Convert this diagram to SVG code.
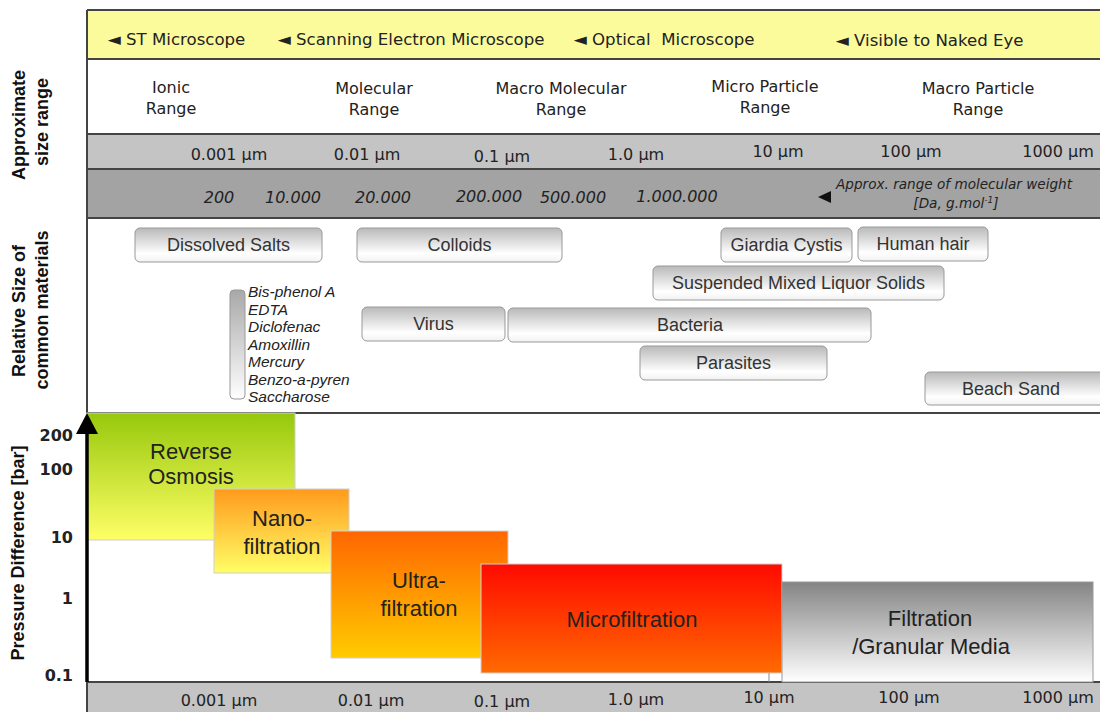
<svg xmlns="http://www.w3.org/2000/svg" width="1100" height="712" viewBox="0 0 1100 712">
<defs>
<linearGradient id="gBox" x1="0" y1="0" x2="0" y2="1"><stop offset="0" stop-color="#b9b9b9"/><stop offset="0.75" stop-color="#ffffff"/><stop offset="1" stop-color="#f2f2f2"/></linearGradient>
<linearGradient id="gBar" x1="0" y1="0" x2="0" y2="1"><stop offset="0" stop-color="#a8a8a8"/><stop offset="1" stop-color="#ffffff"/></linearGradient>
<linearGradient id="gRO" x1="0" y1="0" x2="0" y2="1"><stop offset="0" stop-color="#96c80c"/><stop offset="1" stop-color="#ffff66"/></linearGradient>
<linearGradient id="gNF" x1="0" y1="0" x2="0" y2="1"><stop offset="0" stop-color="#ff9a1c"/><stop offset="1" stop-color="#ffff66"/></linearGradient>
<linearGradient id="gUF" x1="0" y1="0" x2="0" y2="1"><stop offset="0" stop-color="#ff6600"/><stop offset="1" stop-color="#ffcc00"/></linearGradient>
<linearGradient id="gMF" x1="0" y1="0" x2="0" y2="1"><stop offset="0" stop-color="#ff0a00"/><stop offset="1" stop-color="#ff6a00"/></linearGradient>
<linearGradient id="gGF" x1="0" y1="0" x2="0" y2="1"><stop offset="0" stop-color="#848484"/><stop offset="1" stop-color="#ffffff"/></linearGradient>
</defs>
<style>
.t{font-family:"DejaVu Sans",sans-serif;font-size:16px;fill:#222;white-space:pre}
.top{font-size:16.6px}
.c{text-anchor:middle}
.it{font-style:italic}
.mat{fill:url(#gBox);stroke:#999;stroke-width:1}
.mt{font-family:"Liberation Sans",Arial,sans-serif;font-size:18px;fill:#333;text-anchor:middle}
.mol{font-family:"Liberation Sans",Arial,sans-serif;font-size:15.5px;font-style:italic;fill:#222}
.side{font-family:"Liberation Sans",Arial,sans-serif;font-size:18px;font-weight:bold;fill:#111;text-anchor:middle}
.yl{font-family:"DejaVu Sans",sans-serif;font-size:16px;font-weight:bold;fill:#222;text-anchor:end}
.fl{font-family:"Liberation Sans",Arial,sans-serif;font-size:22px;fill:#222;text-anchor:middle}
.proc{stroke:#cfcfcf;stroke-width:1}
.frame{stroke:#444;stroke-width:2;fill:none}
.sm{font-family:"DejaVu Sans",sans-serif;font-size:13.6px;font-style:italic;fill:#222}
</style>
<rect width="1100" height="712" fill="#ffffff"/>

<g id="bands">
<rect x="87" y="10" width="1013" height="49" fill="#fbfb9c"/>
<rect x="87" y="134" width="1013" height="35" fill="#c4c4c4"/>
<rect x="87" y="169" width="1013" height="49" fill="#a3a3a3"/>
<rect x="87" y="683" width="1013" height="29" fill="#c4c4c4"/>
<path class="frame" d="M87 10 H1100 M87 10 V413 M87 59 H1100 M87 134 H1100 M87 169 H1100 M87 218 H1100 M87 413 H1100 M87 682 H1100 M87 682 V712"/>
</g>

<g id="microscopes">
<text class="t top" x="108" y="45">◄ ST Microscope</text>
<text class="t top" x="278" y="45">◄ Scanning Electron Microscope</text>
<text class="t top" x="574" y="45">◄ Optical  Microscope</text>
<text class="t top" x="836" y="46">◄ Visible to Naked Eye</text>
</g>

<g id="ranges">
<text class="t c" x="171" y="93">Ionic</text><text class="t c" x="171" y="114">Range</text>
<text class="t c" x="374" y="94">Molecular</text><text class="t c" x="374" y="115">Range</text>
<text class="t c" x="561" y="94">Macro Molecular</text><text class="t c" x="561" y="115">Range</text>
<text class="t c" x="765" y="92">Micro Particle</text><text class="t c" x="765" y="113">Range</text>
<text class="t c" x="978" y="94">Macro Particle</text><text class="t c" x="978" y="115">Range</text>
</g>

<g id="size-scale-top">
<text class="t c" x="229" y="160">0.001 µm</text>
<text class="t c" x="367" y="160">0.01 µm</text>
<text class="t c" x="502" y="162">0.1 µm</text>
<text class="t c" x="636" y="160">1.0 µm</text>
<text class="t c" x="778" y="157">10 µm</text>
<text class="t c" x="911" y="157">100 µm</text>
<text class="t c" x="1058" y="157">1000 µm</text>
</g>

<g id="molecular-weight">
<text class="t c it" x="219" y="203">200</text>
<text class="t c it" x="293" y="203">10.000</text>
<text class="t c it" x="383" y="203">20.000</text>
<text class="t c it" x="489" y="202">200.000</text>
<text class="t c it" x="573" y="203">500.000</text>
<text class="t c it" x="677" y="202">1.000.000</text>
<polygon points="818,197 831,191 831,203" fill="#111"/>
<text class="sm" x="836" y="189">Approx. range of molecular weight</text>
<text class="sm" x="956" y="208" text-anchor="middle">[Da, g.mol<tspan font-size="9" dy="-5">-1</tspan><tspan dy="5">]</tspan></text>
</g>

<g id="side-labels">
<text class="side" transform="translate(25,125) rotate(-90)">Approximate</text>
<text class="side" transform="translate(48,122) rotate(-90)">size range</text>
<text class="side" transform="translate(25,311) rotate(-90)">Relative Size of</text>
<text class="side" transform="translate(48,310) rotate(-90)">common materials</text>
<text class="side" transform="translate(24,553) rotate(-90)">Pressure Difference [bar]</text>
</g>

<g id="materials">
<g id="dissolved-salts"><rect class="mat" x="135" y="228" width="187" height="34" rx="5"/><text class="mt" x="228.5" y="251">Dissolved Salts</text></g>
<g id="colloids"><rect class="mat" x="357" y="228" width="205" height="34" rx="5"/><text class="mt" x="459.5" y="251">Colloids</text></g>
<g id="giardia"><rect class="mat" x="721" y="228" width="131" height="34" rx="5"/><text class="mt" x="786.5" y="251">Giardia Cystis</text></g>
<g id="human-hair"><rect class="mat" x="858" y="227" width="130" height="34" rx="5"/><text class="mt" x="923" y="250">Human hair</text></g>
<g id="smls"><rect class="mat" x="653" y="266" width="291" height="34" rx="5"/><text class="mt" x="798.5" y="289">Suspended Mixed Liquor Solids</text></g>
<g id="virus"><rect class="mat" x="362" y="307" width="143" height="34" rx="5"/><text class="mt" x="433.5" y="330">Virus</text></g>
<g id="bacteria"><rect class="mat" x="508" y="308" width="363" height="34" rx="5"/><text class="mt" x="690" y="331">Bacteria</text></g>
<g id="parasites"><rect class="mat" x="640" y="346" width="187" height="34" rx="5"/><text class="mt" x="733.5" y="369">Parasites</text></g>
<g id="beach-sand"><rect class="mat" x="925" y="372" width="180" height="33" rx="5"/><text class="mt" x="1011" y="395">Beach Sand</text></g>
<g id="molecules">
<rect x="230" y="290" width="15" height="109" rx="4" fill="url(#gBar)" stroke="#999"/>
<text class="mol" x="248" y="297">Bis-phenol A</text>
<text class="mol" x="248" y="314.5">EDTA</text>
<text class="mol" x="248" y="332">Diclofenac</text>
<text class="mol" x="248" y="349.5">Amoxillin</text>
<text class="mol" x="248" y="367">Mercury</text>
<text class="mol" x="248" y="384.5">Benzo-a-pyren</text>
<text class="mol" x="248" y="402">Saccharose</text>
</g>
</g>

<g id="processes">
<g id="ro"><rect class="proc" x="87" y="413" width="208" height="127" fill="url(#gRO)"/><text class="fl" x="191" y="459">Reverse</text><text class="fl" x="191" y="484">Osmosis</text></g>
<g id="nf"><rect class="proc" x="214" y="489" width="135" height="84" fill="url(#gNF)"/><text class="fl" x="282" y="526">Nano-</text><text class="fl" x="282" y="554">filtration</text></g>
<g id="uf"><rect class="proc" x="331" y="531" width="177" height="127" fill="url(#gUF)"/><text class="fl" x="419" y="588">Ultra-</text><text class="fl" x="419" y="616">filtration</text></g>
<g id="mf"><rect class="proc" x="481" y="564" width="301" height="109" fill="url(#gMF)"/><text class="fl" x="632" y="627">Microfiltration</text></g>
<g id="gf"><rect x="782" y="582" width="311" height="100" fill="url(#gGF)" stroke="#999" stroke-width="1"/><text class="fl" x="930" y="626" font-size="23">Filtration</text><text class="fl" x="931" y="654" font-size="23">/Granular Media</text></g>
</g>

<g id="connectors">
<line x1="87" y1="432" x2="87" y2="682" stroke="#000" stroke-width="3.5"/>
<polygon points="87,413 76,434 98,434" fill="#000"/>
<line x1="769" y1="673" x2="769" y2="682" stroke="#888" stroke-width="1"/>
</g>

<g id="pressure-axis">
<text class="yl" x="73" y="441">200</text>
<text class="yl" x="73" y="475">100</text>
<text class="yl" x="73" y="543">10</text>
<text class="yl" x="73" y="604">1</text>
<text class="yl" x="73" y="681">0.1</text>
</g>

<g id="size-scale-bottom">
<text class="t c" x="219" y="706">0.001 µm</text>
<text class="t c" x="371" y="706">0.01 µm</text>
<text class="t c" x="502" y="707">0.1 µm</text>
<text class="t c" x="636" y="705">1.0 µm</text>
<text class="t c" x="769" y="703">10 µm</text>
<text class="t c" x="909" y="703">100 µm</text>
<text class="t c" x="1058" y="703">1000 µm</text>
</g>
</svg>
